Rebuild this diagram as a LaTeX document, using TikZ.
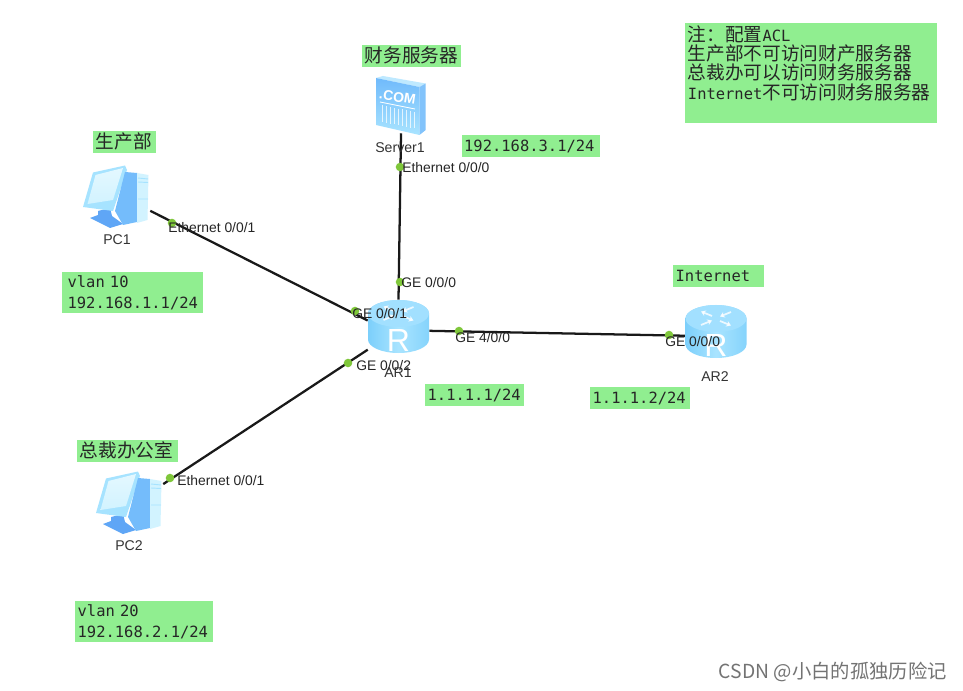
\documentclass[tikz,border=0pt]{standalone}
\usepackage{fontspec}
\setmainfont{Liberation Sans}
\newfontfamily\cjk{Noto Sans CJK SC}
\newfontfamily\mymono{DejaVu Sans Mono}
\usetikzlibrary{calc,arrows.meta}
\definecolor{lblgreen}{HTML}{90EE90}
\definecolor{linkdot}{HTML}{7FC73A}
\definecolor{routerA}{HTML}{7CCFFB}
\definecolor{routerB}{HTML}{A9E4FF}
\definecolor{routerTop}{HTML}{A2E0FF}
\definecolor{pcLight}{HTML}{D2F3FF}
\definecolor{pcMid}{HTML}{A6E3FF}
\definecolor{pcDark}{HTML}{74BCFB}
\definecolor{pcStand}{HTML}{5FA6F6}
\tikzset{
  gbox/.style 2 args={fill=lblgreen,draw=none,inner xsep=2pt,inner ysep=0pt,
    minimum width=#1*0.75pt,minimum height=#2*0.75pt,text width=#1*0.75pt-4pt,align=left,anchor=center,text=black!85},
  holder/.style 2 args={draw=none,fill=none,inner sep=0pt,minimum width=#1*0.75pt,minimum height=#2*0.75pt},
  link/.style={draw=black!90,line width=1.7pt},
  port/.style={circle,fill=linkdot,draw=none,inner sep=0pt,minimum size=6.4pt},
  iflabel/.style={anchor=west,inner sep=0pt,font=\fontsize{10.4}{12}\selectfont,text=black!85},
  devlabel/.style={anchor=center,inner sep=0pt,font=\fontsize{10.6}{12}\selectfont,text=black!80},
  cjktxt/.style={font=\cjk\fontsize{14}{14.5}\selectfont},
  monotxt/.style={font=\mymono\fontsize{11.6}{15.8}\selectfont},
  routericon/.pic={
    % local coordinates in px, origin at cylinder centre
    \shade[left color=routerA,right color=routerA!80!routerB,middle color=routerB]
      (-30.5,-13) arc[start angle=180,end angle=360,x radius=30.5,y radius=13.5]
      -- (30.5,13) arc[start angle=0,end angle=-180,x radius=30.5,y radius=-13.5] -- cycle;
    \fill[routerTop] (0,-13) ellipse[x radius=30.5,y radius=13.5];
    \begin{scope}[white,opacity=.8,line width=1.3pt,arrows={-{Stealth[length=3.5pt,width=4.5pt]}}]
      \draw (-4,-15.5) -- (-15,-20);
      \draw (4,-10.5) -- (15,-6);
      \draw (15,-19.5) -- (4,-15);
      \draw (-15,-6.5) -- (-4,-11);
    \end{scope}
    \node[text=white,inner sep=0pt,font=\fontsize{24}{24}\selectfont] at (0,13.5) {R};
  },
  pcicon/.pic={
    % absolute px coordinates of PC1
    \fill[pcStand] (98,211) -- (110,208) -- (112,216) -- (123,224) -- (110,228) -- (90,218) -- (98,215) -- cycle;
    \fill[pcMid] (93,172.5) -- (125,165.5) -- (127,170) -- (113,211) -- (83,207) -- cycle;
    \shade[top color=pcLight!60!white,bottom color=pcLight] (95.5,175) -- (123,168) -- (113,200) -- (87.5,204) -- cycle;
    \fill[pcDark] (125,172) -- (137,173) -- (137,222) -- (123,225) -- (115,211) -- cycle;
    \fill[pcLight] (137,173) -- (148.5,175) -- (147.5,220) -- (137,223) -- cycle;
    \draw[pcMid,line width=.7pt] (138,178) -- (148,179) (138,182) -- (148,182.5) (138,199) -- (148,199);
  },
  servericon/.pic={
    \fill[routerTop!70!white] (376,78) -- (383,76) -- (425.7,83.5) -- (419.5,87) -- cycle;
    \shade[top color=routerA!90!blue,bottom color=routerB] (376,78) -- (419.5,87) -- (419.5,135) -- (376,125) -- cycle;
    \fill[pcDark!90!white] (419.5,87) -- (425.7,83.5) -- (425.7,130) -- (419.5,135) -- cycle;
    \node[text=white,inner sep=0pt,rotate=-9,font=\bfseries\fontsize{10.5}{10.5}\selectfont] at (397.5,97) {.COM};
    \draw[white,line width=.6pt] (380,102) -- (415,109);
    \foreach \x in {382,386,390,394,398,402,406,410,414}{
      \draw[white,opacity=.75,line width=.6pt] (\x,105.5+\x/5-76.4) -- (\x,122+\x/5-76.4);
    }
  }
}
\begin{document}
\begin{tikzpicture}[x=0.75pt,y=-0.75pt]
\useasboundingbox (0,0) rectangle (963,691);
\fill[white] (0,0) rectangle (963,691);

% device holders
\node[holder={50}{57}] (srv) at (401,104.5) {};
\node[holder={67}{63}] (pc1) at (116.5,196.5) {};
\node[holder={67}{62}] (pc2) at (129.5,502) {};
\node[holder={61}{53}] (ar1) at (398.5,326.5) {};
\node[holder={60}{53}] (ar2) at (716,331.5) {};

% links
\draw[link] (srv.south) -- (ar1.north);
\draw[link] (pc1.-23.4) -- (ar1.169.8);
\draw[link] (pc2.28.2) -- (ar1.217.6);
\draw[link] (ar1.-8.4) -- (ar2.188.5);

% icons
\pic at (0,0) {servericon};
\pic at (0,0) {pcicon};
\pic at (13,306) {pcicon};
\pic at (ar1) {routericon};
\pic at (ar2) {routericon};

% port dots
\node[port] (d1) at (400,167) {};
\node[port] (d2) at (400,282) {};
\node[port] (d3) at (355,311) {};
\node[port] (d4) at (172,223) {};
\node[port] (d5) at (348,363) {};
\node[port] (d6) at (170,478) {};
\node[port] (d7) at (459,331) {};
\node[port] (d8) at (669,335) {};

% interface labels
\node[iflabel] (l1) at (402,168) {Ethernet 0/0/0};
\node[iflabel] (l2) at (401,283) {GE 0/0/0};
\node[iflabel] (l3) at (352,314) {GE 0/0/1};
\node[iflabel] (l4) at (168,228) {Ethernet 0/0/1};
\node[iflabel] (l5) at (356,366) {GE 0/0/2};
\node[iflabel] (l6) at (177,481) {Ethernet 0/0/1};
\node[iflabel] (l7) at (455,338) {GE 4/0/0};
\node[iflabel] (l8) at (665,342) {GE 0/0/0};

% device labels
\node[devlabel] (n1) at (400,148) {Server1};
\node[devlabel] (n2) at (117,240) {PC1};
\node[devlabel] (n3) at (129,546) {PC2};
\node[devlabel] (n4) at (398,373) {AR1};
\node[devlabel] (n5) at (715,377) {AR2};

% green notes
\node[gbox={99}{22},cjktxt] (g1) at (411.5,56) {\raisebox{1.5pt}{财务服务器}};
\node[gbox={138}{22},monotxt] (g2) at (530.5,146) {\raisebox{.7pt}{192.168.3.1/24}};
\node[gbox={63}{22},cjktxt] (g3) at (124.5,142) {\raisebox{1.5pt}{生产部}};
\node[gbox={141}{41},monotxt] (g4) at (132.5,292.5) {\hspace*{2.2pt}vlan 10\\\hspace*{2.2pt}192.168.1.1/24};
\node[gbox={91}{22},monotxt] (g5) at (718.5,276) {Internet};
\node[gbox={99}{22},monotxt] (g6) at (474.5,395) {1.1.1.1/24};
\node[gbox={100}{22},monotxt] (g7) at (640,398) {1.1.1.2/24};
\node[gbox={101}{22},cjktxt] (g8) at (127.5,451) {\raisebox{1.5pt}{总裁办公室}};
\node[gbox={138}{41},monotxt] (g9) at (144,621.5) {vlan 20\\192.168.2.1/24};
\node[fill=lblgreen,inner xsep=2pt,inner ysep=0pt,minimum width=252*0.75pt,minimum height=100*0.75pt,text width=252*0.75pt-4pt,align=left,anchor=north west,text=black!85,cjktxt] (g10) at (685,23)
  {注：配置{\mymono\fontsize{11.6}{14.5}\selectfont ACL}\\生产部不可访问财产服务器\\总裁办可以访问财务服务器\\{\mymono\fontsize{11.6}{14.5}\selectfont Internet}不可访问财务服务器\par\vspace{15.5pt}};

% watermark
\node[anchor=east,inner sep=0pt,text=black!55,font=\cjk\fontsize{14.5}{16}\selectfont] (wm) at (947,672) {CSDN @小白的孤独历险记};
\end{tikzpicture}
\end{document}
